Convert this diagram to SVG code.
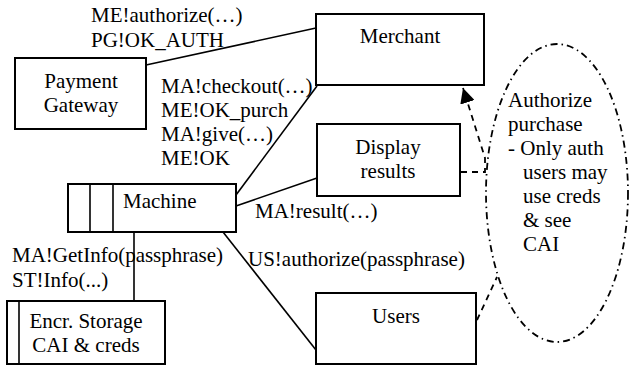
<svg xmlns="http://www.w3.org/2000/svg" width="629" height="368" viewBox="0 0 629 368">
<defs>
<style>
text{font-family:'Liberation Serif','Times New Roman',serif;font-size:21px;fill:#000}
.box{fill:#fff;stroke:#000;stroke-width:2}
.ln{stroke:#000;stroke-width:1.6;fill:none}
.dash{stroke:#000;stroke-width:1.8;fill:none;stroke-dasharray:6 5}
.dd{stroke:#000;stroke-width:1.8;fill:none;stroke-dasharray:7 4 1.5 4}
.c{text-anchor:middle}
</style>
<marker id="arr" viewBox="0 0 10 10" refX="10" refY="5" markerWidth="15" markerHeight="15" markerUnits="userSpaceOnUse" orient="auto">
<path d="M0,0 L10,5 L0,10 z" fill="#000"/>
</marker>
</defs>
<rect width="629" height="368" fill="#fff"/>
<g id="connectors">
<line class="ln" x1="146" y1="65" x2="316" y2="28"/>
<line class="ln" x1="317" y1="86" x2="236" y2="195"/>
<line class="ln" x1="236" y1="206" x2="317" y2="178"/>
<line class="ln" x1="223" y1="232" x2="316" y2="350"/>
<line class="ln" x1="134" y1="232" x2="134" y2="301"/>
<polyline class="dash" points="461,172 485,172 485,158 463,88" marker-end="url(#arr)"/>
<line class="dash" x1="477" y1="320" x2="497" y2="277"/>
<text x="91" y="22">ME!authorize(…)</text>
<text x="91" y="47">PG!OK_AUTH</text>
<text x="161" y="93">MA!checkout(…)</text>
<text x="161" y="117">ME!OK_purch</text>
<text x="161" y="141">MA!give(…)</text>
<text x="161" y="165">ME!OK</text>
<text x="255" y="218">MA!result(…)</text>
<text x="12" y="262">MA!GetInfo(passphrase)</text>
<text x="12" y="287">ST!Info(...)</text>
<text x="248" y="266">US!authorize(passphrase)</text>
</g>
<g id="payment-gateway">
<rect class="box" x="15" y="58" width="131" height="71"/>
<text class="c" x="81" y="88">Payment</text>
<text class="c" x="81" y="112">Gateway</text>
</g>
<g id="merchant">
<rect class="box" x="316" y="14" width="168" height="71"/>
<text class="c" x="400" y="43">Merchant</text>
</g>
<g id="display-results">
<rect class="box" x="317" y="124" width="143" height="72"/>
<text class="c" x="388" y="154">Display</text>
<text class="c" x="388" y="178">results</text>
</g>
<g id="machine">
<rect class="box" x="68" y="184" width="168" height="48"/>
<line class="ln" x1="90" y1="184" x2="90" y2="232"/>
<line class="ln" x1="113" y1="184" x2="113" y2="232"/>
<text x="123" y="208">Machine</text>
</g>
<g id="encr-storage">
<rect class="box" x="7" y="301" width="158" height="63"/>
<line class="ln" x1="19" y1="301" x2="19" y2="364"/>
<text class="c" x="86" y="328">Encr. Storage</text>
<text class="c" x="86" y="352">CAI &amp; creds</text>
</g>
<g id="users">
<rect class="box" x="316" y="293" width="160" height="71"/>
<text class="c" x="396" y="323">Users</text>
</g>
<g id="authorize-purchase">
<ellipse class="dd" cx="557" cy="193" rx="71" ry="149"/>
<text x="508" y="107">Authorize</text>
<text x="508" y="131">purchase</text>
<text x="508" y="155">- Only auth</text>
<text x="523" y="179">users may</text>
<text x="523" y="203">use creds</text>
<text x="523" y="227">&amp; see</text>
<text x="523" y="251">CAI</text>
</g>
</svg>
